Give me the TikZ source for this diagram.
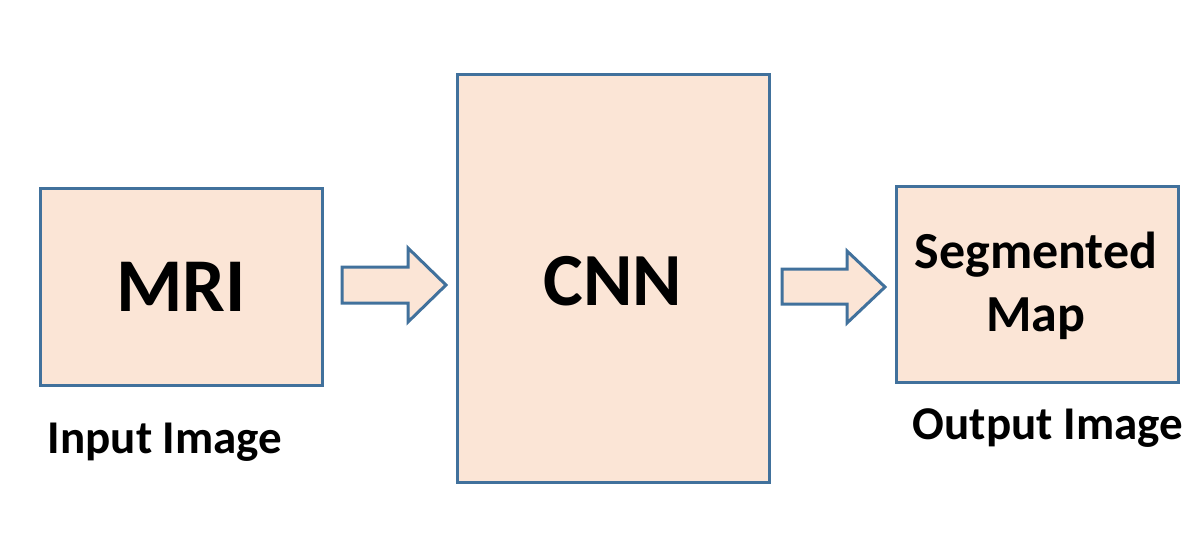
\documentclass[tikz,border=0pt]{standalone}
\usepackage{fontspec}
\setmainfont{Carlito}
\definecolor{boxfill}{HTML}{FBE5D6}
\definecolor{boxline}{HTML}{41719C}
\begin{document}
\begin{tikzpicture}[x=1pt,y=-1pt,
  blk/.style={draw=boxline,fill=boxfill,line width=3pt},
  lbl/.style={font=\bfseries, text=black, inner sep=0pt, align=center}]
\useasboundingbox (0,0) rectangle (1191,552);
% boxes
\draw[blk] (40,188) rectangle (322,385);
\draw[blk] (457,74) rectangle (769,482);
\draw[blk] (896,186) rectangle (1178,382);
% block arrows
\draw[blk,line join=miter] (342,267) -- (408,267) -- (408,248) -- (446,285) -- (408,322) -- (408,303) -- (342,303) -- cycle;
\draw[blk,line join=miter] (782,269) -- (847,269) -- (847,251) -- (885,287) -- (847,323) -- (847,304) -- (782,304) -- cycle;
% texts
\node[lbl,font=\fontsize{76}{80}\bfseries\selectfont] (mri) at (181,287) {MRI};
\node[lbl,font=\fontsize{75}{80}\bfseries\selectfont] (cnn) at (613,281) {CNN};
\node[lbl,font=\fontsize{52}{63}\bfseries\selectfont] (seg) at (1036,286) {Segmented\\Map};
\node[lbl,font=\fontsize{47}{50}\bfseries\selectfont] (in) at (165,442) {Input Image};
\node[lbl,font=\fontsize{47}{50}\bfseries\selectfont] (out) at (1048,428) {Output Image};
\end{tikzpicture}
\end{document}
